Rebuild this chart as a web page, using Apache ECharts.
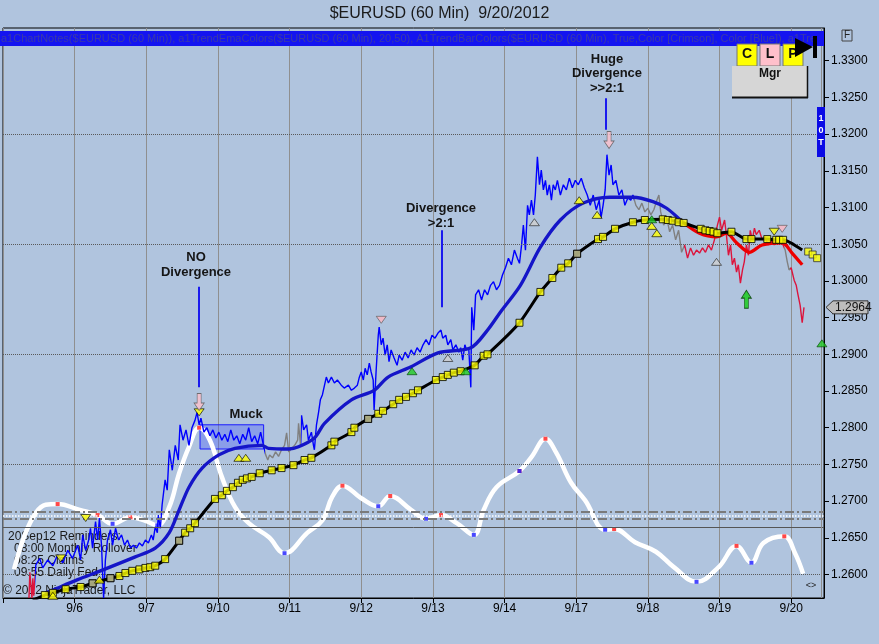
<!DOCTYPE html>
<html><head><meta charset="utf-8">
<script src="https://cdn.jsdelivr.net/npm/echarts@6/dist/echarts.min.js"></script>
<style>html,body{margin:0;padding:0;background:#b0c4de;}#c{width:879px;height:644px;}</style>
</head><body><div id="c"></div>
<script>
// ---------- DATA (x = hours from chart start, y = price) ----------
const dayLabels = ['9/6','9/7','9/10','9/11','9/12','9/13','9/14','9/17','9/18','9/19','9/20'];
const priceTicks = [1.2600,1.2650,1.2700,1.2750,1.2800,1.2850,1.2900,1.2950,1.3000,1.3050,1.3100,1.3150,1.3200,1.3250,1.3300];
const gridLevels = [1.2600,1.2750,1.2900,1.3050,1.3200];
const lastPrice = 1.2964;

const priceBars = [
[8.7,1.2568],[9,1.2603],[9.7,1.2568],[10,1.2595],[10.3,1.2571],
[11,1.2613],[12.3,1.2622],[13.3,1.2609],[15,1.2620],[16.7,1.2612],[18.3,1.2627],[20,1.2616],[21.7,1.2633],[23.3,1.2622],[25,1.2640],[26,1.2620],[26.7,1.2654],[27.7,1.2633],[28.7,1.2647],[29.3,1.2663],[30,1.2636],[31,1.2672],[31.7,1.2647],[32.3,1.2677],[33,1.2640],[33.7,1.2568],[34.3,1.2620],[35,1.2647],[36,1.2661],[36.7,1.2640],[37.7,1.2663],[38.7,1.2647],[39.7,1.2654],[40.7,1.2640],[41.7,1.2647],[42.7,1.2636],[43.7,1.2640],[44.7,1.2636],[45.7,1.2643],[46.7,1.2639],[47.7,1.2647],[48.7,1.2643],[49.7,1.2654],[50.3,1.2647],[51,1.2665],[51.7,1.2657],[52,1.2681],[52.7,1.2663],[53.3,1.2695],[54.3,1.2729],[55,1.2715],[55.7,1.2770],[56.7,1.2742],[57.7,1.2776],[58.7,1.2756],[59.3,1.2804],[60.3,1.2783],[61.3,1.2797],[62.3,1.2776],[63.3,1.2800],[64.3,1.2810],[65,1.2821],[65.7,1.2804],[66.3,1.2813],
[67.3,1.2794],[68.3,1.2800],[69.3,1.2789],[70.3,1.2797],[71.3,1.2786],[72.3,1.2794],[73.3,1.2783],[74.3,1.2791],[75.3,1.2781],[76.3,1.2797],[77.3,1.2783],[78.3,1.2789],[79.3,1.2778],[80.3,1.2791],[81.3,1.2783],[82.3,1.2800],[83.3,1.2781],[84.3,1.2789],[85.3,1.2778],[86.3,1.2794],[87.3,1.2775],
[88,1.2763],[88.7,1.2756],[89.3,1.2763],[90.3,1.2759],[91.3,1.2767],[92.3,1.2761],[93.3,1.2770],[94.3,1.2776],[95,1.2793],[95.7,1.2767],[96.7,1.2772],[97.7,1.2776],[98.7,1.2783],[99,1.2806],[99.7,1.2774],
[100,1.2817],[100.7,1.2797],[101.7,1.2804],[102.3,1.2783],[103.3,1.2794],[104,1.2776],[104.3,1.2770],[105,1.2804],[105.7,1.2821],[106.3,1.2838],[107,1.2845],[107.7,1.2858],[108.3,1.2869],[109,1.2861],[110,1.2869],[111,1.2861],[112,1.2865],[113.3,1.2858],[114.3,1.2854],[115.7,1.2858],[116.7,1.2851],[117.7,1.2854],[118.7,1.2858],[119.3,1.2868],[120,1.2876],[120.7,1.2865],[121.3,1.2881],[122,1.2872],[122.7,1.2888],[123.3,1.2876],[124,1.2865],[124.3,1.2824],[125,1.2879],[125.7,1.2926],[126,1.2937],[126.7,1.2913],[127.3,1.2922],[128,1.2899],[128.7,1.2913],[129.3,1.2890],[130,1.2906],[131,1.2895],[132,1.2885],[132.7,1.2899],[133.7,1.2892],[134.7,1.2903],[135.7,1.2895],[136.7,1.2906],[137.7,1.2899],[138.7,1.2909],[139.7,1.2903],[140.7,1.2913],[141.7,1.2920],[142.7,1.2913],[143.7,1.2926],[144.7,1.2922],[145.7,1.2929],[146.7,1.2933],[147.3,1.2922],[148.3,1.2926],[149,1.2913],[150,1.2920],[150.7,1.2906],[151.7,1.2913],[152.7,1.2903],[153.3,1.2909],[154,1.2892],[154.7,1.2913],[155.3,1.2906],[156,1.2909],[156.7,1.2855],[157,1.2964],[157.7,1.2933],[158.3,1.2981],[159.3,1.2988],[160.3,1.2974],[161.3,1.2988],[162.3,1.2981],[163.3,1.2994],[164.3,1.2999],[165.3,1.2988],[166.3,1.2994],[167.3,1.3008],[168.3,1.3018],[169.3,1.3031],[170.3,1.3022],[171.3,1.3042],[172.3,1.3031],[173,1.3024],[173.7,1.3049],[174.3,1.3076],[175,1.3042],[175.7,1.3103],[176.3,1.3090],[177,1.3110],[177.7,1.3090],[178.3,1.3117],[179,1.3169],[179.7,1.3131],[180.3,1.3151],[181,1.3124],[181.7,1.3137],[182.3,1.3117],[183,1.3131],[183.7,1.3110],[184.3,1.3131],[185,1.3124],[185.7,1.3137],[186.7,1.3117],[187.7,1.3131],[188.7,1.3124],[189.7,1.3140],[190.7,1.3127],[191.7,1.3137],[192.7,1.3131],[193.7,1.3140],[194.7,1.3127],[195.7,1.3117],[196.7,1.3103],[197.7,1.3117],[198.7,1.3097],[199.7,1.3110],[200.3,1.3086],[201,1.3103],[201.7,1.3124],[202.3,1.3172],[203,1.3144],[203.7,1.3158],[204.3,1.3131],[205.3,1.3137],[206.3,1.3117],[207.3,1.3124],[208.3,1.3103],[209.3,1.3113],[210.3,1.3110],[211,1.3117],
[212,1.3103],[213,1.3097],[214,1.3106],[215,1.3094],[216,1.3099],[217,1.3090],[218,1.3097],[219,1.3110],[219.7,1.3117],[220.3,1.3094],[221.3,1.3076],[222.3,1.3086],[223.3,1.3067],[224.3,1.3076],[225.3,1.3056],[226.3,1.3069],[227.3,1.3039],
[228.3,1.3049],[229.3,1.3031],[230.3,1.3045],[231.3,1.3035],[232.3,1.3042],[233.3,1.3038],[234.3,1.3045],[235.3,1.3039],[236.3,1.3049],[237.3,1.3042],[238.3,1.3056],[239.3,1.3076],[240,1.3087],[240.7,1.3069],[241.7,1.3083],[242.3,1.3063],[243,1.3035],[243.7,1.3049],[244.3,1.3022],[245,1.3031],[245.7,1.3012],[246.3,1.3022],[247,1.2997],[247.7,1.3015],[248.3,1.3026],[249,1.3049],[249.7,1.3035],[250.3,1.3069],[251,1.3056],[251.7,1.3072],[252.3,1.3063],[253.3,1.3069],[254.3,1.3056],[255.3,1.3060],[256.3,1.3049],[257.3,1.3056],[258.3,1.3049],[259.3,1.3056],[260.3,1.3052],[261.3,1.3049],
[262,1.3042],[262.7,1.3026],[263.3,1.3015],
[264,1.3018],[265,1.3001],[265.7,1.2994],[266.3,1.2981],[267,1.2967],[267.7,1.2943],[268.3,1.2964]
];

const emaFast = [
[14.3,1.2575],[16.7,1.2579],[25,1.2593],[33.3,1.2606],[44.3,1.2624],[51,1.2636],[55.7,1.2657],[59,1.2688],[62.3,1.2719],[66.7,1.2745],[72.3,1.2763],[77.7,1.2772],[86.7,1.2776],[89,1.2772],[95.7,1.2771],[99,1.2774],[104.3,1.2786],[107.7,1.2806],[116.7,1.2838],[124.3,1.2851],[129,1.2869],[136.7,1.2883],[145.7,1.2902],[156.7,1.2909],[162.3,1.2933],[166.7,1.2958],[173.3,1.2994],[180,1.3046],[186.7,1.3083],[194.3,1.3106],[203.3,1.3114],[211,1.3114],[217.7,1.3108],[222.3,1.3099],[227.7,1.3080],[233.3,1.3065],[239,1.3060],[242.3,1.3065],[245.7,1.3052],[250,1.3039],[254.3,1.3049],[261,1.3052],[264.3,1.3038],[267.7,1.3022]
];
const emaFastTurnIdx = 34; // point where the fast average turns red

const emaSlow = [
[10,1.2565],[14,1.2572],[16.7,1.2575],[21,1.2580],[26,1.2583],[30,1.2588],[36,1.2595],[39,1.2598],[41,1.2602],[43.3,1.2605],[45.7,1.2607],[47.7,1.2609],[49.3,1.2610],[51,1.2612],[54.3,1.2621],[59,1.2646],[61,1.2657],[62.7,1.2663],[64.3,1.2670],[71,1.2703],[73.3,1.2708],[75,1.2714],[77,1.2719],[78.7,1.2725],[80.3,1.2729],[81.7,1.2731],[83.3,1.2733],[86,1.2738],[90,1.2742],[93.3,1.2745],[97.3,1.2749],[101,1.2756],[103.3,1.2759],[110,1.2776],[111,1.2781],[116.7,1.2794],[117.7,1.2800],[122.3,1.2812],[125.7,1.2819],[127.3,1.2823],[130.7,1.2832],[132.7,1.2838],[135,1.2842],[137.3,1.2847],[139,1.2851],[145,1.2865],[147.3,1.2869],[149,1.2872],[151,1.2875],[153.3,1.2877],[158,1.2885],[161,1.2898],[162.3,1.2900],[173,1.2943],[180,1.2985],[184,1.3004],[187,1.3018],[189.3,1.3024],[192.3,1.3037],[199.3,1.3057],[201,1.3060],[205,1.3071],[211,1.3080],[215,1.3083],[221,1.3084],[222.7,1.3083],[224.3,1.3082],[226.3,1.3080],[228,1.3079],[233.7,1.3071],[235.3,1.3069],[236.7,1.3068],[238,1.3067],[239.3,1.3065],[244,1.3067],[249,1.3057],[250.7,1.3057],[256,1.3057],[259,1.3056],[260,1.3056],[261.3,1.3056],[267.7,1.3042]
];
const emaSlowGrayIdx = [5,6,15,37,58];
const emaSlowTrail = [[269.7,1.3040],[271.2,1.3036],[272.7,1.3031]];

const oscillator = [
[3.7,1.2607],[7.3,1.2654],[11,1.2684],[14.3,1.2695],[18.3,1.2696],[25.7,1.2688],[31.7,1.2681],[36.7,1.2669],[42.7,1.2678],[47.7,1.2673],[51.7,1.2667],[55.7,1.2692],[59,1.2738],[62.3,1.2774],[65.7,1.2800],[69.3,1.2783],[73.3,1.2733],[77.7,1.2692],[82.3,1.2670],[89,1.2651],[94.3,1.2629],[102,1.2657],[107,1.2674],[110.3,1.2706],[113.7,1.2721],[120,1.2704],[125.7,1.2693],[129.7,1.2707],[136.7,1.2688],[141.7,1.2676],[146.7,1.2681],[152,1.2670],[157.7,1.2654],[161,1.2688],[165.3,1.2719],[173,1.2741],[177,1.2760],[181.7,1.2785],[185.3,1.2766],[190.3,1.2725],[195,1.2701],[201.7,1.2661],[204.7,1.2662],[211.7,1.2644],[218.7,1.2631],[224.7,1.2610],[232.3,1.2590],[239.7,1.2610],[245.7,1.2639],[250.7,1.2616],[254.7,1.2643],[261.7,1.2652],[265.3,1.2629],[268,1.2601]
];
const oscPeakIdx = [4,6,8,14,24,27,30,35,37,42,48,51];
const oscTroughIdx = [7,10,20,26,29,32,35,41,46,49];
const oscLevels = [1.26856,1.26807,1.26756,1.26643];

const yellowUpTri = [[16.7,1.2571],[32.3,1.2593],[79,1.2759],[81.3,1.2759],[193,1.3110],[199,1.3090],[217.3,1.3075],[219,1.3065]];
const yellowDownTri = [[19.3,1.2622],[27.7,1.2677],[65.7,1.2821],[258.3,1.3067]];
const pinkDownTri = [[126.7,1.2947],[261,1.3071]];
const greenUpTri = [[137,1.2877],[155,1.2877],[217.3,1.3084],[274.3,1.2915]];
const grayUpTri = [[149,1.2895],[178,1.3080],[239,1.3026]];
const pinkArrows = [[65.7,1.2835],[203,1.3192]];
const greenArrows = [[249,1.2975]];
const calloutLines = [[[65.7,1.2992],[65.7,1.2855]],[[147,1.3069],[147,1.2964]],[[202,1.3249],[202,1.3206]]];
const muckBox = [[66,1.2804],[87.3,1.2771]];

// ---------- CHART ----------
const F = "'Liberation Sans', Arial, sans-serif";
const chart = echarts.init(document.getElementById('c'));

const barPieces = [
  {gte:0, lt:10.7, color:'#dc143c'},
  {gte:10.7, lt:87.7, color:'#0000ff'},
  {gte:87.7, lt:99.85, color:'#808080'},
  {gte:99.85, lt:211.5, color:'#0000ff'},
  {gte:211.5, lt:228, color:'#808080'},
  {gte:228, lt:261.7, color:'#dc143c'},
  {gte:261.7, lt:263.7, color:'#808080'},
  {gte:263.7, lte:300, color:'#dc143c'}
];

function tri(name, data, color, border, rotate) {
  return {name, type:'scatter', data, symbol:'triangle', symbolSize:[10,7], symbolRotate:rotate||0,
    itemStyle:{color, borderColor:border, borderWidth:0.8}, z:9, silent:true};
}

const option = {
  animation:false,
  backgroundColor:'#b0c4de',
  title:{text:'$EURUSD (60 Min)  9/20/2012', left:'center', top:6, padding:0,
    textStyle:{fontFamily:F, fontSize:16, fontWeight:'normal', color:'#1a1a1a'}},
  grid:{left:0, right:55, top:28, bottom:46, show:true, borderColor:'#000', borderWidth:1, backgroundColor:'transparent'},
  xAxis:{type:'value', min:0, max:275, interval:24,
    axisLine:{onZero:false, lineStyle:{color:'#000'}},
    axisTick:{length:5, lineStyle:{color:'#000'}},
    axisLabel:{formatter:v=>dayLabels[Math.round(v/24)-1]||'', color:'#000', fontSize:12, margin:5, fontFamily:F, showMaxLabel:false},
    splitLine:{show:true, lineStyle:{color:'#8f8f8f', width:1}}},
  yAxis:{type:'value', position:'right', min:1.2568, max:1.33446,
    axisLine:{show:true, onZero:false, lineStyle:{color:'#000'}},
    axisTick:{show:true, length:5, customValues:priceTicks, lineStyle:{color:'#000'}},
    axisLabel:{customValues:priceTicks, formatter:v=>v.toFixed(4), color:'#000', fontSize:12, margin:7, fontFamily:F},
    splitLine:{show:false}},
  visualMap:[
    {type:'piecewise', show:false, dimension:0, seriesIndex:3, pieces:barPieces}
  ],
  series:[
    {name:'osc', type:'line', data:oscillator, smooth:0.4, showSymbol:false, z:2, silent:true,
      lineStyle:{color:'#ffffff', width:4.5},
      markLine:{silent:true, symbol:'none', precision:6, label:{show:false},
        data:[
          ...gridLevels.map(v=>({yAxis:v, lineStyle:{type:'dotted', color:'#5a5a5a', width:1}})),
          {yAxis:oscLevels[0], lineStyle:{type:[9,3,2,3], color:'#7a7a7a', width:2}},
          {yAxis:oscLevels[1], lineStyle:{type:'dotted', color:'#ffffff', width:1.5}},
          {yAxis:oscLevels[2], lineStyle:{type:[9,3,2,3], color:'#7a7a7a', width:2}},
          {yAxis:oscLevels[3], lineStyle:{type:'solid', color:'#555555', width:1}},
          {xAxis:274, lineStyle:{type:'solid', color:'#8c8c8c', width:1}}
        ]}},
    {name:'oscPeaks', type:'scatter', data:oscPeakIdx.map(i=>oscillator[i]), symbol:'rect', symbolSize:4, itemStyle:{color:'#ff1a1a'}, z:3, silent:true},
    {name:'oscTroughs', type:'scatter', data:oscTroughIdx.map(i=>oscillator[i]), symbol:'rect', symbolSize:4, itemStyle:{color:'#1a1aff'}, z:3, silent:true},
    {name:'price', type:'line', data:priceBars, showSymbol:false, z:4, silent:true,
      lineStyle:{width:1.4},
      markArea:{silent:true, itemStyle:{color:'rgba(70,90,255,0.35)', borderColor:'#1a1aff', borderWidth:1},
        data:[[{coord:muckBox[0]},{coord:muckBox[1]}]]}},
    {name:'emaFastUp', type:'line', data:emaFast.slice(0, emaFastTurnIdx+1), smooth:0.3, showSymbol:false, z:5, silent:true,
      lineStyle:{width:3.3, color:'#1515c8'}},
    {name:'emaFastDown', type:'line', data:emaFast.slice(emaFastTurnIdx), smooth:0.3, showSymbol:false, z:5, silent:true,
      lineStyle:{width:3.3, color:'#ee0000'}},
    {name:'emaSlow', type:'line', data:emaSlow, smooth:0.2, z:6, silent:true,
      showSymbol:false, lineStyle:{color:'#000', width:3},
      markLine:{silent:true, symbol:'none', precision:6, label:{show:false}, lineStyle:{color:'#1a1aee', width:2, type:'solid'},
        data:calloutLines.map(l=>[{coord:l[0]},{coord:l[1]}])}},
    {name:'emaSlowSquares', type:'scatter', data:emaSlow.slice(1, emaSlow.length-1), symbol:'rect', symbolSize:7,
      itemStyle:{color:'#ffff00', borderColor:'#000', borderWidth:1}, z:7, silent:true},
    {name:'emaSlowGray', type:'scatter', data:emaSlowGrayIdx.map(i=>emaSlow[i]), symbol:'rect', symbolSize:7,
      itemStyle:{color:'#9a9a9a', borderColor:'#000', borderWidth:1}, z:8, silent:true},
    {name:'emaSlowTrail', type:'scatter', data:emaSlowTrail, symbol:'rect', symbolSize:7,
      itemStyle:{color:'#ffff00', borderColor:'#333', borderWidth:1}, z:7, silent:true},
    tri('yellowUp', yellowUpTri, '#ffff00', '#000', 0),
    tri('yellowDown', yellowDownTri, '#ffff00', '#000', 180),
    tri('pinkDown', pinkDownTri, '#ffb6c1', '#555', 180),
    tri('greenUp', greenUpTri, '#22cc22', '#004400', 0),
    tri('grayUp', grayUpTri, '#d0d0d0', '#222', 0),
    {name:'pinkArrow', type:'scatter', data:pinkArrows, symbol:'path://M3,0L7,0L7,9L10,9L5,16L0,9L3,9Z', symbolSize:[10,17],
      itemStyle:{color:'#ffc0cb', borderColor:'#555', borderWidth:0.8}, z:10, silent:true},
    {name:'greenArrow', type:'scatter', data:greenArrows, symbol:'path://M5,0L10,7L7,7L7,16L3,16L3,7L0,7Z', symbolSize:[10,18],
      itemStyle:{color:'#11cc11', borderColor:'#003300', borderWidth:0.8}, z:10, silent:true}
  ]
};
chart.setOption(option);

const tagY = chart.convertToPixel({yAxisIndex:0}, lastPrice);
const bold13 = "bold 13px 'Liberation Sans', Arial, sans-serif";
function txt(text, x, y, font, fill, align, z) {
  return {type:'text', z:z==null?100:z, silent:true,
    style:{text, x, y, font, fill, textAlign:align||'left', textVerticalAlign:'middle', align:align||'left', verticalAlign:'middle'}};
}
const headerText = 'a1ChartNotes($EURUSD (60 Min)), a1TrendEmaColors($EURUSD (60 Min), 20,50), A1TrendBarColors($EURUSD (60 Min), True,Color [Crimson], Color [Blue]), a1TrendEmaColors($EURUSD (60 Min), 20,50)';
chart.setOption({graphic:[
  {type:'rect', z:100, silent:true, shape:{x:0,y:31,width:824,height:15}, style:{fill:'#1414f0'}},
  {type:'text', z:101, silent:true, style:{text:headerText, x:1, y:38.5, font:"11px 'Liberation Sans', Arial, sans-serif", fill:'#3a3aa8',
    textVerticalAlign:'middle', verticalAlign:'middle', width:822, overflow:'truncate', ellipsis:''}},
  {type:'rect', z:102, silent:true, shape:{x:737,y:44,width:20,height:22}, style:{fill:'#ffff00', stroke:'#777', lineWidth:1}},
  {type:'rect', z:102, silent:true, shape:{x:760,y:44,width:20,height:22}, style:{fill:'#ffc0cb', stroke:'#777', lineWidth:1}},
  {type:'rect', z:102, silent:true, shape:{x:783,y:44,width:20,height:22}, style:{fill:'#ffff00', stroke:'#777', lineWidth:1}},
  txt('C', 747, 54, "bold 14px 'Liberation Sans', Arial, sans-serif", '#111', 'center', 103),
  txt('L', 770, 54, "bold 14px 'Liberation Sans', Arial, sans-serif", '#111', 'center', 103),
  txt('P', 793, 54, "bold 14px 'Liberation Sans', Arial, sans-serif", '#111', 'center', 103),
  {type:'rect', z:102, silent:true, shape:{x:732,y:66,width:76,height:32}, style:{fill:'#d6d6d6'}},
  {type:'line', z:103, silent:true, shape:{x1:732,y1:97.5,x2:808,y2:97.5}, style:{stroke:'#111', lineWidth:2}},
  {type:'line', z:103, silent:true, shape:{x1:807.5,y1:66,x2:807.5,y2:98}, style:{stroke:'#111', lineWidth:1.5}},
  txt('Mgr', 770, 74, "bold 12px 'Liberation Sans', Arial, sans-serif", '#111', 'center', 103),
  {type:'polygon', z:104, silent:true, shape:{points:[[795,38],[795,57],[813,47]]}, style:{fill:'#000'}},
  {type:'rect', z:104, silent:true, shape:{x:813,y:36,width:4,height:22}, style:{fill:'#000'}},
  {type:'rect', z:100, silent:true, shape:{x:842,y:30,width:10,height:11}, style:{fill:'none', stroke:'#444', lineWidth:1}},
  txt('F', 847, 35.5, "10px 'Liberation Sans', Arial, sans-serif", '#222', 'center'),
  {type:'rect', z:100, silent:true, shape:{x:817,y:107,width:8,height:50}, style:{fill:'#0a0ae6'}},
  txt('1', 821, 119, "bold 9px 'Liberation Sans', Arial, sans-serif", '#ffffff', 'center', 101),
  txt('0', 821, 131, "bold 9px 'Liberation Sans', Arial, sans-serif", '#ffffff', 'center', 101),
  txt('T', 821, 143, "bold 9px 'Liberation Sans', Arial, sans-serif", '#ffffff', 'center', 101),
  {type:'polygon', z:100, silent:true, shape:{points:[[826,tagY],[833,tagY-6.5],[868,tagY-6.5],[868,tagY+6.5],[833,tagY+6.5]]}, style:{fill:'#bdbdbd', stroke:'#333', lineWidth:1}},
  txt(lastPrice.toFixed(4), 835, tagY, "12px 'Liberation Sans', Arial, sans-serif", '#111', 'left', 101),
  txt('NO', 196, 257, bold13, '#151515', 'center'),
  txt('Divergence', 196, 272, bold13, '#151515', 'center'),
  txt('Muck', 246, 414, bold13, '#151515', 'center'),
  txt('Divergence', 441, 208, bold13, '#151515', 'center'),
  txt('>2:1', 441, 223, bold13, '#151515', 'center'),
  txt('Huge', 607, 59, bold13, '#151515', 'center'),
  txt('Divergence', 607, 73, bold13, '#151515', 'center'),
  txt('>>2:1', 607, 88, bold13, '#151515', 'center'),
  txt('20Sep12 Reminders:', 8, 537, "12px 'Liberation Sans', Arial, sans-serif", '#1a1a1a', 'left', 1),
  txt('08:00 Monthly Rollover', 14, 549, "12px 'Liberation Sans', Arial, sans-serif", '#1a1a1a', 'left', 1),
  txt('08:25 Claims', 14, 561, "12px 'Liberation Sans', Arial, sans-serif", '#1a1a1a', 'left', 1),
  txt('09:55 Daily Fed', 14, 573, "12px 'Liberation Sans', Arial, sans-serif", '#1a1a1a', 'left', 1),
  txt('\u00a9 2012 NinjaTrader, LLC', 3, 591, "12px 'Liberation Sans', Arial, sans-serif", '#1a1a1a', 'left', 1),
  txt('<>', 811, 586, "9px 'Liberation Sans', Arial, sans-serif", '#222', 'center')
]});
</script>
</body></html>
